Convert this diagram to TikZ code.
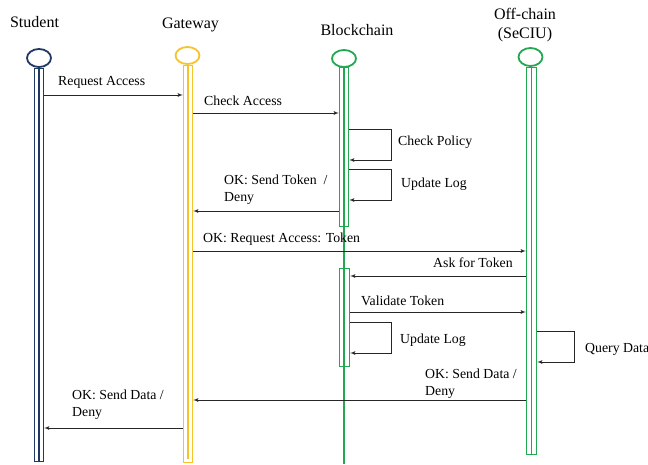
\documentclass[tikz,border=0pt]{standalone}
\usepackage{fontspec}
\setmainfont{Liberation Serif}
\usetikzlibrary{shapes.geometric,arrows,positioning}
\definecolor{navyc}{RGB}{31,56,100}
\definecolor{goldc}{RGB}{246,195,40}
\definecolor{leafc}{RGB}{34,168,80}

\begin{document}
\begin{tikzpicture}[x=1pt,y=-1pt,>=latex',
	head/.style={ellipse, draw=#1, line width=1.8pt, minimum width=24pt, minimum height=17pt, inner sep=0pt},
	bar/.style={rectangle, draw=#1, line width=1.4pt, minimum width=9pt, inner sep=0pt, anchor=north},
	title/.style={font=\fontsize{16}{19}\selectfont, align=center},
	lbl/.style={font=\fontsize{13.8}{16.5}\selectfont, align=left, inner sep=0pt},
	msg/.style={->, line width=0.8pt, draw=black!85}]
\useasboundingbox (0,0) rectangle (648,464);

% titles
\node[title, anchor=base] (tStu) at (34.5,27) {Student};
\node[title, anchor=base] (tGw) at (190.5,28) {Gateway};
\node[title, anchor=base] (tBc) at (357,35) {Blockchain};
\node[title, anchor=base] (tOff) at (525,38) {Off-chain\\(SeCIU)};

% lifelines
\node[head=navyc, minimum height=18pt] (stu) at (39,58) {};
\node[bar=navyc, minimum height=393pt] (stuL) at (39,68) {};
\draw[navyc, line width=1.4pt] (stuL.north) -- (stuL.south);

\node[head=goldc] (gw) at (187.5,55.5) {};
\node[bar=goldc, minimum height=397pt] (gwL) at (188,65) {};
\draw[goldc, line width=1.4pt] (gwL.north) -- ([yshift=4pt]gwL.south);

\node[head=leafc] (bc) at (344,58.5) {};
\draw[leafc, line width=1.5pt] (bc.south) -- (344,464);
\node[bar=leafc, minimum height=159pt] (bcA) at (344,67) {};
\node[bar=leafc, minimum width=10pt, minimum height=98pt] (bcB) at (344.5,268) {};

\node[head=leafc, minimum height=18pt] (off) at (530.5,57) {};
\node[bar=leafc, minimum width=10pt, minimum height=387pt] (offL) at (531.5,67) {};
\draw[leafc, line width=1.4pt] (offL.north) -- (offL.south);

% messages
\draw[msg] (stuL.east |- 0,95) -- (gwL.west |- 0,95);
\node[lbl, anchor=base west] (mReq) at (58,85) {Request Access};

\draw[msg] (gwL.east |- 0,113) -- (bcA.west |- 0,113);
\node[lbl, anchor=base west] (mChk) at (204,105) {Check Access};

\draw[msg] (bcA.east |- 0,129) -- ++(42,0) |- (bcA.east |- 0,160);
\node[lbl, anchor=base west] (mPol) at (398,145) {Check Policy};

\draw[msg] (bcA.east |- 0,169) -- ++(42,0) |- (bcA.east |- 0,200);
\node[lbl, anchor=base west] (mLog) at (401,187) {Update Log};

\draw[msg] (bcA.west |- 0,211) -- (gwL.east |- 0,211);
\node[lbl, anchor=base west] (mTok) at (224,201) {OK: Send Token~ /\\Deny};

\draw[msg] (gwL.east |- 0,251) -- (offL.west |- 0,251);
\node[lbl, anchor=base west] (mAcc) at (203,242) {OK: Request Access: Token};

\draw[msg] (offL.west |- 0,276) -- (bcB.east |- 0,276);
\node[lbl, anchor=base west] (mAsk) at (433,267) {Ask for Token};

\draw[msg] (bcB.east |- 0,312) -- (offL.west |- 0,312);
\node[lbl, anchor=base west] (mVal) at (361,305) {Validate Token};

\draw[msg] (bcB.east |- 0,322) -- ++(41,0) |- (bcB.east |- 0,353);
\node[lbl, anchor=base west] (mLog2) at (400,343) {Update Log};

\draw[msg] (offL.east |- 0,331) -- ++(37,0) |- (offL.east |- 0,362);
\node[lbl, anchor=base west] (mQry) at (585,352) {Query Data};

\draw[msg] (offL.west |- 0,400) -- (gwL.east |- 0,400);
\node[lbl, anchor=base west] (mDat) at (425,395) {OK: Send Data /\\Deny};

\draw[msg] (gwL.west |- 0,428) -- (stuL.east |- 0,428);
\node[lbl, anchor=base west] (mDat2) at (72,416) {OK: Send Data /\\Deny};
\end{tikzpicture}
\end{document}
